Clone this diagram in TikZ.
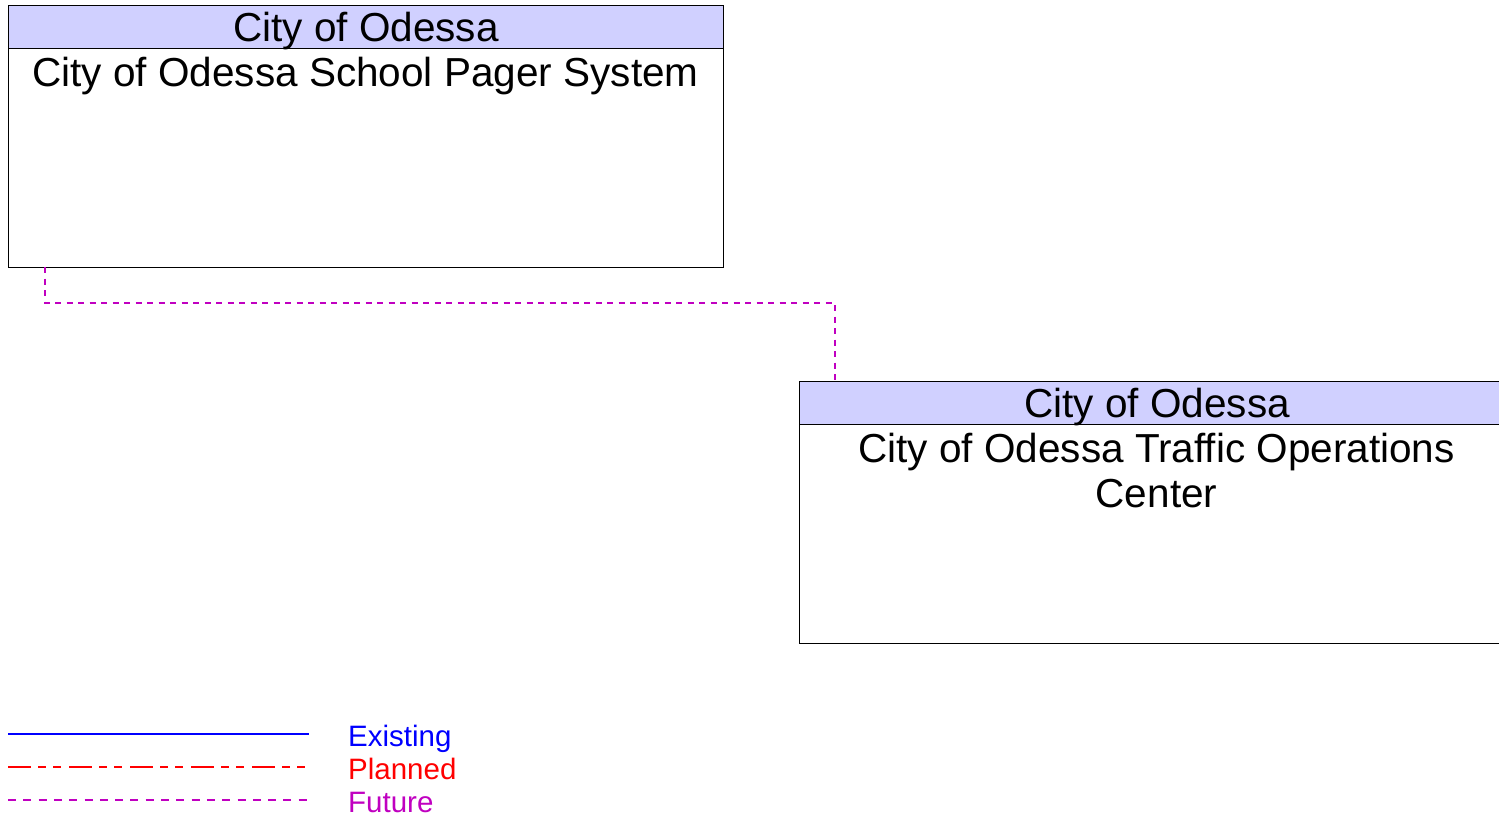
\documentclass[tikz,border=0pt]{standalone}
\usepackage{fontspec}
\setmainfont{Liberation Sans}
\definecolor{hdrblue}{RGB}{208,208,255}
\definecolor{futmag}{RGB}{192,0,192}
\definecolor{exblue}{RGB}{0,0,255}
\definecolor{plred}{RGB}{255,0,0}
\tikzset{
  sysbox/.style={draw=black, line width=1pt, fill=white, minimum width=715pt, minimum height=262pt, inner sep=0pt, anchor=north west},
  hdrbox/.style={draw=black, line width=1pt, fill=hdrblue, minimum width=715pt, minimum height=43pt, inner sep=0pt, anchor=north, text height=29pt, text depth=0pt, font=\fontsize{40.5}{45}\selectfont},
  bodytext/.style={inner sep=0pt, anchor=north, align=center, font=\fontsize{40.5}{45}\selectfont},
  futureline/.style={futmag, line width=1.2pt, dash pattern=on 6pt off 5.5pt},
  legtext/.style={inner sep=0pt, anchor=base west, font=\fontsize{29.5}{33}\selectfont}
}
\begin{document}
\begin{tikzpicture}[x=1pt,y=-1pt]
\useasboundingbox (0,0) rectangle (1499,817);
% boxes
\node[sysbox] (b1) at (8,5) {};
\node[hdrbox] (h1) at (b1.north) {City of Odessa};
\node[bodytext] (t1) at (365.5,57) {City of Odessa School Pager System};
\node[sysbox] (b2) at (799,381) {};
\node[hdrbox] (h2) at (b2.north) {City of Odessa};
\node[bodytext] (t2) at (1156.5,433) {City of Odessa Traffic Operations\\Center};
% connector
\coordinate (c1) at (45,267);
\coordinate (c2) at (835,381);
\draw[futureline] (c1) -- (45,303) -- (835,303) -- (c2);
% legend
\coordinate (l1a) at (8,734); \coordinate (l1b) at (309,734);
\coordinate (l2a) at (8,767); \coordinate (l2b) at (309,767);
\coordinate (l3a) at (8,800); \coordinate (l3b) at (309,800);
\draw[exblue, line width=2.2pt] (l1a) -- (l1b);
\draw[plred, line width=1.4pt, dash pattern=on 23pt off 7pt on 8pt off 7pt on 8pt off 8pt] (l2a) -- (l2b);
\draw[futmag, line width=1.4pt, dash pattern=on 8pt off 7.3pt] (l3a) -- (l3b);
\node[legtext, text=exblue] (e1) at (348,746) {Existing};
\node[legtext, text=plred] (e2) at (348,779) {Planned};
\node[legtext, text=futmag] (e3) at (348,812) {Future};
\end{tikzpicture}
\end{document}
